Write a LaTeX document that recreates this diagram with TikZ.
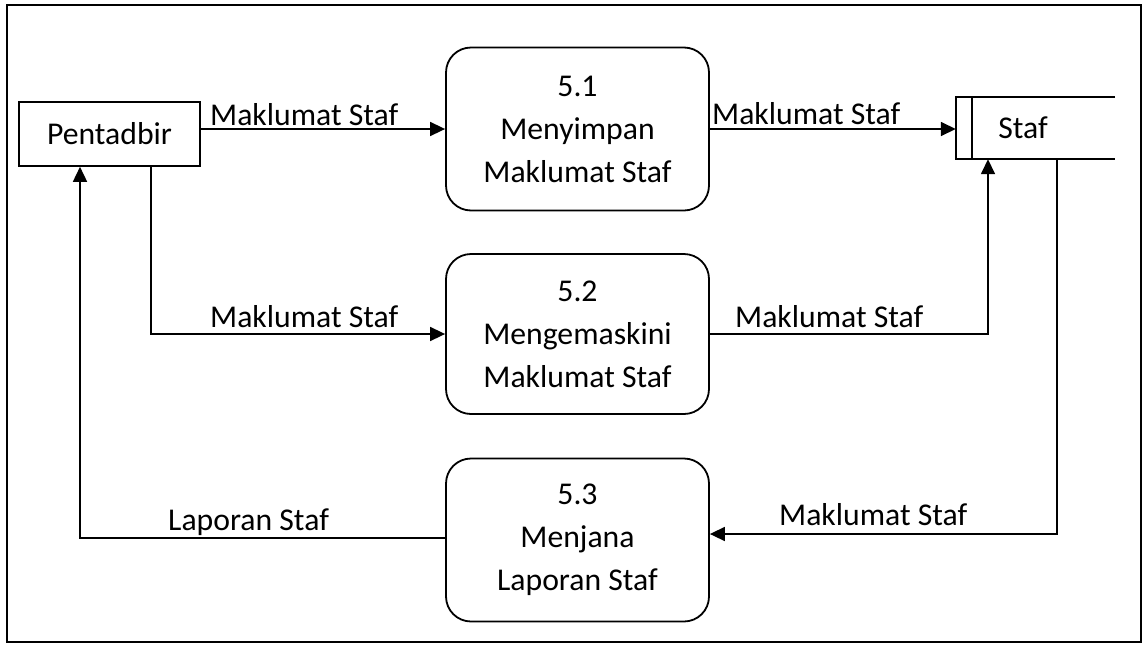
\documentclass[tikz,border=0pt]{standalone}
\usepackage{fontspec}
\setmainfont{Carlito}
\usetikzlibrary{arrows.meta}
\tikzset{
  lbl/.style={font=\fontsize{31.7}{43}\selectfont, inner sep=0pt, anchor=base west},
  proc/.style={draw, line width=1.8pt, rounded corners=25pt, minimum width=263pt, minimum height=163pt, align=center, font=\fontsize{31.7}{43}\selectfont, inner sep=0pt},
  ext/.style={draw, line width=1.6pt, minimum width=181pt, minimum height=64pt, inner sep=0pt, font=\fontsize{31.7}{43}\selectfont},
  arr/.style={line width=1.6pt, -{Triangle[length=15pt,width=14pt]}},
  ln/.style={line width=1.6pt},
}
\begin{document}
\begin{tikzpicture}[x=1pt,y=-1pt]
\useasboundingbox (0,0) rectangle (1144,646);
\node[draw, line width=1.3pt, minimum width=1134pt, minimum height=637pt, inner sep=0pt] (frame) at (574,323.5) {};
\node[ext] (pent) at (109.5,134) {Pentadbir};
\node[proc] (p1) at (577.5,129) {5.1\\Menyimpan\\Maklumat Staf};
\node[proc, minimum height=160pt] (p2) at (577.5,334) {5.2\\Mengemaskini\\Maklumat Staf};
\node[proc] (p3) at (577.5,540) {5.3\\Menjana\\Laporan Staf};
% data store
\node[minimum width=159pt, minimum height=62pt, inner sep=0pt] (store) at (1035.5,128) {};
\draw[ln] (store.north east) -- (store.north west) -- (store.south west) -- (store.south east);
\draw[ln] ([xshift=16pt]store.north west) -- ([xshift=16pt]store.south west);
\node[font=\fontsize{31.7}{43}\selectfont, inner sep=0pt] (stafText) at (1023,128) {Staf};
% connectors
\draw[arr] (pent.east|-p1.west) -- (p1.west);
\draw[arr] (p1.east) -- (p1.east -| store.west);
\draw[arr] ([xshift=41.5pt]pent.south) |- (p2.west);
\draw[arr] (p2.east) -| ([xshift=-47.5pt]store.south);
\draw[arr] ([xshift=21.5pt]store.south) |- ([yshift=6pt]p3.east);
\draw[arr] ([yshift=2pt]p3.west) -| ([xshift=-29.5pt]pent.south);
% labels
\node[lbl] (l1) at (210,125) {Maklumat Staf};
\node[lbl] (l2) at (712,124) {Maklumat Staf};
\node[lbl] (l3) at (210,327) {Maklumat Staf};
\node[lbl] (l4) at (735,327) {Maklumat Staf};
\node[lbl] (l5) at (779,525) {Maklumat Staf};
\node[lbl] (l6) at (168,530) {Laporan Staf};
\end{tikzpicture}
\end{document}
